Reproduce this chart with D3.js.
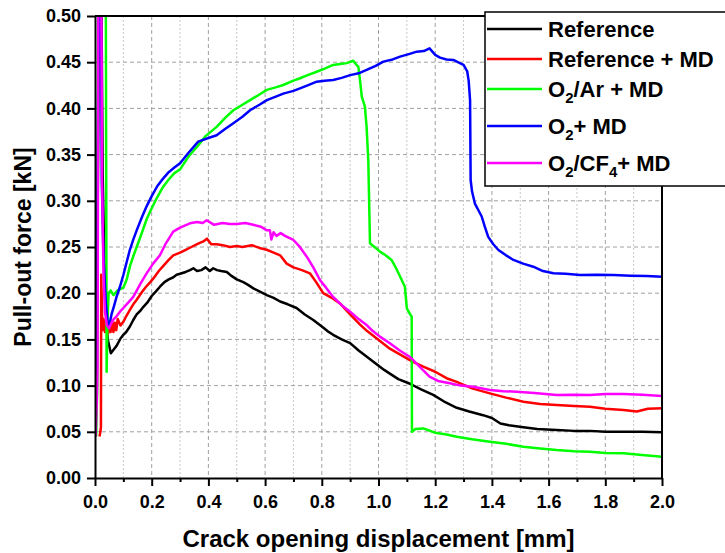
<!DOCTYPE html>
<html><head><meta charset="utf-8">
<script src="https://cdn.jsdelivr.net/npm/d3@7"></script>
<style>
html,body{margin:0;padding:0;background:#fff;}
svg{display:block;font-family:"Liberation Sans",Arial,sans-serif;}
</style></head>
<body><svg id="c" width="725" height="553"></svg>
<script>
// ---------- DATA ----------
const seriesNames = ["Reference","Reference + MD","O2/Ar + MD","O2+ MD","O2/CF4+ MD"];
const seriesColors = ["#000000","#ff0000","#00ff00","#0000ff","#ff00ff"];
const xTickValues = [0,0.2,0.4,0.6,0.8,1.0,1.2,1.4,1.6,1.8,2.0];
const xTickLabels = ["0.0","0.2","0.4","0.6","0.8","1.0","1.2","1.4","1.6","1.8","2.0"];
const xMinorTicks = [0.1,0.3,0.5,0.7,0.9,1.1,1.3,1.5,1.7,1.9];
const yTickValues = [0,0.05,0.10,0.15,0.20,0.25,0.30,0.35,0.40,0.45,0.50];
const yTickLabels = ["0.00","0.05","0.10","0.15","0.20","0.25","0.30","0.35","0.40","0.45","0.50"];

const reference = [[0.000,0.045],[0.006,0.15],[0.012,0.40],[0.016,0.55],[0.022,0.55],[0.027,0.33],[0.035,0.2],[0.045,0.15],[0.056,0.135],[0.066,0.139],[0.076,0.143],[0.09,0.151],[0.1,0.155],[0.11,0.158],[0.123,0.164],[0.135,0.171],[0.147,0.177],[0.16,0.181],[0.17,0.185],[0.185,0.19],[0.2,0.197],[0.215,0.202],[0.229,0.207],[0.245,0.212],[0.26,0.215],[0.275,0.217],[0.288,0.220],[0.3,0.221],[0.32,0.223],[0.335,0.225],[0.347,0.227],[0.36,0.224],[0.375,0.225],[0.39,0.228],[0.405,0.224],[0.417,0.227],[0.43,0.225],[0.445,0.224],[0.465,0.223],[0.48,0.219],[0.5,0.215],[0.523,0.212],[0.54,0.209],[0.56,0.205],[0.58,0.202],[0.606,0.198],[0.63,0.195],[0.653,0.191],[0.68,0.188],[0.711,0.184],[0.74,0.177],[0.77,0.171],[0.8,0.164],[0.82,0.159],[0.84,0.155],[0.87,0.150],[0.9,0.146],[0.93,0.138],[0.96,0.131],[0.99,0.124],[1.02,0.117],[1.04,0.113],[1.07,0.107],[1.111,0.102],[1.15,0.096],[1.193,0.090],[1.23,0.083],[1.276,0.076],[1.32,0.072],[1.369,0.068],[1.40,0.065],[1.43,0.059],[1.46,0.057],[1.511,0.055],[1.56,0.053],[1.628,0.052],[1.69,0.051],[1.746,0.051],[1.80,0.050],[1.864,0.050],[1.93,0.050],[2.0,0.0495]];

const referenceMD = [[0.016,0.045],[0.019,0.05],[0.021,0.055],[0.022,0.22],[0.024,0.19],[0.026,0.16],[0.03,0.172],[0.035,0.158],[0.04,0.166],[0.045,0.155],[0.05,0.163],[0.055,0.158],[0.06,0.17],[0.065,0.158],[0.07,0.168],[0.075,0.16],[0.08,0.172],[0.09,0.165],[0.1,0.169],[0.11,0.175],[0.123,0.182],[0.135,0.188],[0.147,0.193],[0.165,0.201],[0.18,0.207],[0.195,0.212],[0.206,0.216],[0.225,0.224],[0.245,0.231],[0.26,0.236],[0.276,0.241],[0.3,0.244],[0.32,0.247],[0.34,0.250],[0.36,0.253],[0.382,0.256],[0.395,0.259],[0.41,0.253],[0.43,0.253],[0.45,0.252],[0.476,0.250],[0.5,0.251],[0.52,0.25],[0.553,0.252],[0.58,0.249],[0.606,0.247],[0.63,0.244],[0.653,0.241],[0.676,0.232],[0.7,0.228],[0.73,0.225],[0.758,0.2215],[0.78,0.212],[0.805,0.200],[0.835,0.195],[0.864,0.189],[0.9,0.177],[0.935,0.166],[0.96,0.159],[0.994,0.151],[1.04,0.140],[1.08,0.133],[1.12,0.126],[1.158,0.1205],[1.2,0.115],[1.24,0.108],[1.276,0.104],[1.33,0.097],[1.393,0.0916],[1.45,0.087],[1.511,0.0826],[1.57,0.080],[1.628,0.079],[1.69,0.078],[1.746,0.077],[1.80,0.075],[1.864,0.0736],[1.911,0.072],[1.95,0.075],[2.0,0.0754]];

const o2ArMD = [[0.004,0.045],[0.008,0.10],[0.012,0.55],[0.038,0.55],[0.041,0.115],[0.044,0.17],[0.048,0.2],[0.055,0.203],[0.065,0.198],[0.08,0.203],[0.1,0.206],[0.112,0.215],[0.123,0.229],[0.135,0.24],[0.147,0.25],[0.165,0.265],[0.182,0.28],[0.2,0.292],[0.218,0.303],[0.24,0.315],[0.26,0.323],[0.28,0.33],[0.3,0.334],[0.33,0.348],[0.364,0.36],[0.39,0.37],[0.429,0.38],[0.46,0.390],[0.488,0.398],[0.52,0.404],[0.547,0.409],[0.58,0.415],[0.606,0.420],[0.64,0.423],[0.664,0.4253],[0.7,0.430],[0.723,0.4326],[0.75,0.436],[0.782,0.4397],[0.81,0.443],[0.84,0.447],[0.865,0.448],[0.888,0.449],[0.911,0.4516],[0.92,0.448],[0.929,0.445],[0.935,0.43],[0.941,0.4127],[0.952,0.402],[0.958,0.38],[0.964,0.344],[0.97,0.254],[0.99,0.249],[1.005,0.245],[1.025,0.241],[1.046,0.236],[1.062,0.227],[1.076,0.218],[1.093,0.207],[1.1,0.1836],[1.11,0.178],[1.117,0.1746],[1.118,0.05],[1.13,0.053],[1.158,0.0537],[1.2,0.049],[1.24,0.047],[1.276,0.0447],[1.33,0.042],[1.393,0.0393],[1.45,0.037],[1.511,0.0339],[1.57,0.032],[1.628,0.0303],[1.69,0.029],[1.746,0.0285],[1.80,0.027],[1.864,0.0267],[1.93,0.025],[2.0,0.023]];

const o2MD = [[0.0,0.045],[0.006,0.15],[0.011,0.4],[0.014,0.55],[0.02,0.55],[0.024,0.32],[0.03,0.24],[0.038,0.19],[0.045,0.168],[0.05,0.165],[0.055,0.172],[0.059,0.178],[0.067,0.186],[0.076,0.196],[0.088,0.207],[0.1,0.2197],[0.112,0.234],[0.123,0.247],[0.135,0.258],[0.147,0.268],[0.165,0.282],[0.182,0.294],[0.2,0.305],[0.22,0.316],[0.24,0.324],[0.26,0.331],[0.28,0.336],[0.3,0.3406],[0.33,0.352],[0.364,0.364],[0.4,0.368],[0.429,0.371],[0.46,0.378],[0.488,0.384],[0.52,0.391],[0.547,0.398],[0.58,0.404],[0.606,0.409],[0.64,0.413],[0.664,0.416],[0.7,0.419],[0.723,0.4217],[0.75,0.425],[0.782,0.4289],[0.81,0.430],[0.84,0.4307],[0.87,0.433],[0.9,0.436],[0.93,0.438],[0.958,0.4416],[0.99,0.446],[1.017,0.4506],[1.05,0.453],[1.076,0.456],[1.11,0.459],[1.135,0.4614],[1.16,0.462],[1.18,0.465],[1.2,0.458],[1.217,0.455],[1.24,0.453],[1.264,0.4524],[1.287,0.449],[1.3,0.447],[1.313,0.44],[1.318,0.43],[1.323,0.409],[1.325,0.3225],[1.33,0.31],[1.34,0.297],[1.352,0.29],[1.364,0.283],[1.375,0.272],[1.387,0.261],[1.405,0.253],[1.423,0.2467],[1.45,0.241],[1.476,0.236],[1.51,0.232],[1.546,0.2287],[1.58,0.224],[1.617,0.2215],[1.66,0.221],[1.711,0.2197],[1.77,0.22],[1.828,0.2197],[1.89,0.219],[1.946,0.2186],[2.0,0.2179]];

const o2CF4MD = [[0.002,0.045],[0.006,0.08],[0.009,0.12],[0.012,0.55],[0.022,0.55],[0.025,0.32],[0.03,0.22],[0.035,0.18],[0.042,0.165],[0.05,0.162],[0.058,0.168],[0.066,0.172],[0.076,0.175],[0.088,0.18],[0.1,0.184],[0.118,0.19],[0.135,0.196],[0.16,0.21],[0.182,0.2215],[0.205,0.232],[0.229,0.241],[0.25,0.254],[0.276,0.2666],[0.3,0.271],[0.335,0.2756],[0.36,0.277],[0.38,0.276],[0.394,0.279],[0.42,0.274],[0.45,0.276],[0.476,0.275],[0.5,0.275],[0.53,0.276],[0.558,0.274],[0.585,0.272],[0.606,0.268],[0.617,0.268],[0.622,0.258],[0.63,0.266],[0.64,0.262],[0.655,0.265],[0.67,0.262],[0.7,0.2576],[0.72,0.251],[0.747,0.2395],[0.77,0.228],[0.794,0.214],[0.815,0.206],[0.84,0.196],[0.87,0.187],[0.9,0.18],[0.93,0.172],[0.958,0.1656],[0.98,0.159],[1.005,0.153],[1.04,0.1458],[1.075,0.138],[1.111,0.131],[1.15,0.119],[1.18,0.1096],[1.21,0.105],[1.252,0.1025],[1.29,0.1],[1.334,0.0988],[1.393,0.0952],[1.44,0.094],[1.487,0.0934],[1.55,0.092],[1.628,0.0898],[1.69,0.09],[1.746,0.0898],[1.80,0.091],[1.864,0.0909],[1.93,0.09],[2.0,0.0887]];

const seriesData = [reference, referenceMD, o2ArMD, o2MD, o2CF4MD];

// ---------- CHART ----------
const svg = d3.select("#c");
const L = 95, R = 662, T = 16, B = 478;
const x = d3.scaleLinear().domain([0, 2.0]).range([L, R]);
const y = d3.scaleLinear().domain([0, 0.5]).range([B, T]);

svg.append("defs").append("clipPath").attr("id","clip")
  .append("rect").attr("x",L).attr("y",T).attr("width",R-L).attr("height",B-T);

// grid
const grid = svg.append("g");
grid.selectAll(".gxm").data(xMinorTicks).join("line")
  .attr("x1",d=>x(d)).attr("x2",d=>x(d)).attr("y1",T).attr("y2",B)
  .attr("stroke","#c8c8c8").attr("stroke-width",1).attr("stroke-dasharray","2,2");
grid.selectAll(".gx").data(xTickValues.slice(1,-1)).join("line")
  .attr("x1",d=>x(d)).attr("x2",d=>x(d)).attr("y1",T).attr("y2",B)
  .attr("stroke","#a0a0a0").attr("stroke-width",1).attr("stroke-dasharray","4,3");
grid.selectAll(".gy").data(yTickValues.slice(1,-1)).join("line")
  .attr("x1",L).attr("x2",R).attr("y1",d=>y(d)).attr("y2",d=>y(d))
  .attr("stroke","#a0a0a0").attr("stroke-width",1).attr("stroke-dasharray","4,3");

// lines
const line = d3.line().x(d=>x(d[0])).y(d=>y(d[1]));
const lg = svg.append("g").attr("clip-path","url(#clip)");
seriesData.forEach((s,i)=>{
  lg.append("path").datum(s).attr("d",line).attr("fill","none")
    .attr("stroke",seriesColors[i]).attr("stroke-width",2.5)
    .attr("stroke-linejoin","round");
});

// axes
const fmtX = d => xTickLabels[xTickValues.indexOf(d)];
const fmtY = d => yTickLabels[yTickValues.indexOf(d)];
const xAxis = svg.append("g").attr("transform",`translate(0,${B})`)
  .call(d3.axisBottom(x).tickValues(xTickValues).tickFormat(fmtX).tickSize(8).tickPadding(9).tickSizeOuter(0));
const xMinor = svg.append("g").attr("transform",`translate(0,${B})`)
  .call(d3.axisBottom(x).tickValues(xMinorTicks).tickFormat("").tickSize(4).tickSizeOuter(0));
xMinor.select(".domain").remove();
const yAxis = svg.append("g").attr("transform",`translate(${L},0)`)
  .call(d3.axisLeft(y).tickValues(yTickValues).tickFormat(fmtY).tickSize(8).tickPadding(6).tickSizeOuter(0));
[xAxis,xMinor,yAxis].forEach(g=>{
  g.selectAll("line").attr("stroke","#000").attr("stroke-width",2);
  g.selectAll(".domain").attr("stroke","#000").attr("stroke-width",2);
  g.selectAll("text").attr("font-size",18).attr("font-weight","bold").attr("fill","#000")
    .attr("font-family","'Liberation Sans',Arial,sans-serif");
});
// frame top/right
svg.append("line").attr("x1",L).attr("x2",R).attr("y1",T).attr("y2",T).attr("stroke","#000").attr("stroke-width",2);
svg.append("line").attr("x1",R).attr("x2",R).attr("y1",T).attr("y2",B).attr("stroke","#000").attr("stroke-width",2);

// axis titles
svg.append("text").attr("x",(L+R)/2).attr("y",547).attr("text-anchor","middle")
  .attr("font-size",24).attr("font-weight","bold").text("Crack opening displacement [mm]");
svg.append("text").attr("transform",`translate(31,${(T+B)/2}) rotate(-90)`).attr("text-anchor","middle")
  .attr("font-size",23).attr("font-weight","bold").text("Pull-out force [kN]");

// legend
const leg = svg.append("g");
leg.append("rect").attr("x",485).attr("y",12).attr("width",260).attr("height",174)
  .attr("fill","#fff").attr("stroke","#000").attr("stroke-width",1.5);
const rowY = [29, 59, 89, 126, 163];
const legendParts = [
  [["Reference",false]],
  [["Reference + MD",false]],
  [["O",false],["2",true],["/Ar + MD",false]],
  [["O",false],["2",true],["+ MD",false]],
  [["O",false],["2",true],["/CF",false],["4",true],["+ MD",false]]
];
seriesNames.forEach((n,i)=>{
  leg.append("line").attr("x1",487).attr("x2",542).attr("y1",rowY[i]).attr("y2",rowY[i])
    .attr("stroke",seriesColors[i]).attr("stroke-width",2.5);
  const t = leg.append("text").attr("x",548).attr("y",rowY[i]+8)
    .attr("font-size",22).attr("font-weight","bold");
  legendParts[i].forEach(([s,sub])=>{
    t.append("tspan").text(s).attr("font-size",sub?15:22).attr("dy",0)
      .attr("baseline-shift",sub?"-6":null);
  });
});
</script></body></html>
